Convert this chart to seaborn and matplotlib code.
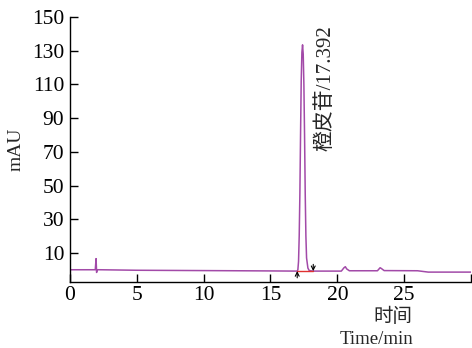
import matplotlib
matplotlib.use("Agg")
import matplotlib.pyplot as plt
import seaborn as sns
import pandas as pd

time_min = [0, 1.9, 1.96, 2.0, 2.04, 2.1, 2.3, 5, 10, 15, 17.0, 17.05, 17.1, 17.15, 17.2, 17.25,
            17.3, 17.35, 17.4, 17.45, 17.5, 17.55, 17.6, 17.65, 17.7, 17.8, 17.9, 18.2,
            20.3, 20.5, 20.6, 20.7, 20.9, 23.0, 23.2, 23.3, 23.5, 26.0, 26.8, 30.0]
mau = [0.0, 0.0, 6.6, -1.6, 0.0, 0.0, 0.0, -0.3, -0.5, -0.7, -0.8, 0.0, 5.0, 20.0, 45.0, 80.0,
       112.0, 129.0, 133.5, 128.0, 110.0, 80.0, 45.0, 20.0, 7.0, 1.0, -0.5, -0.8,
       -0.8, 1.2, 1.8, 0.5, -0.6, -0.6, 1.2, 0.7, -0.5, -0.6, -1.4, -1.4]
yticks = [10, 30, 50, 70, 90, 110, 130, 150]
xticks = [0, 5, 10, 15, 20, 25, 30]
xticklabels = ["0", "5", "10", "15", "20", "25", ""]
peak_label = "橙皮苷/17.392"
peak_start, peak_end, peak_base = 17.0, 18.2, -0.8

sns.set_theme(style="ticks")
plt.rcParams['font.family'] = ['Liberation Serif', 'Noto Sans CJK SC']

df = pd.DataFrame({"t": time_min, "v": mau})
fig = plt.figure(figsize=(4.72, 3.48), dpi=100)
ax = fig.add_axes([0.148, 0.19, 0.85, 0.761])
sns.lineplot(data=df, x="t", y="v", ax=ax, color="#a24aa8", linewidth=1.1)
ax.plot([peak_start, peak_end], [peak_base, peak_base], color="#e03030", linewidth=1.0)
ax.annotate("", xy=(peak_start, peak_base), xytext=(peak_start, peak_base - 4.0),
            arrowprops=dict(arrowstyle="->", color="black", lw=0.8,
                            shrinkA=0, shrinkB=0, mutation_scale=7))
ax.annotate("", xy=(peak_end, peak_base), xytext=(peak_end, peak_base + 4.0),
            arrowprops=dict(arrowstyle="->", color="black", lw=0.8,
                            shrinkA=0, shrinkB=0, mutation_scale=7))

ax.set_xlim(0, 30)
ax.set_ylim(-7.2, 150)
ax.set_xticks(xticks)
ax.set_xticklabels(xticklabels)
ax.set_yticks(yticks)
ax.tick_params(labelsize=15.5, length=6, width=1, colors="black", direction="in")
ax.tick_params(axis="x", pad=3)
ax.tick_params(axis="y", pad=4)
for s in ["top", "right"]:
    ax.spines[s].set_visible(False)
for s in ["left", "bottom"]:
    ax.spines[s].set_color("black")
    ax.spines[s].set_linewidth(1)
ax.set_xlabel("")
ax.set_ylabel("mAU", fontsize=14)
ax.yaxis.set_label_coords(-0.112, 0.5)
ax.text(19.1, 70.5, peak_label, rotation=90, ha="center", va="bottom", fontsize=15)
fig.text(412 / 472, 1 - 317 / 348, "时间", ha="right", va="center", fontsize=14)
fig.text(413 / 472, 1 - 340 / 348, "Time/min", ha="right", va="center", fontsize=13.5)
fig.savefig("out.png", dpi=100)
